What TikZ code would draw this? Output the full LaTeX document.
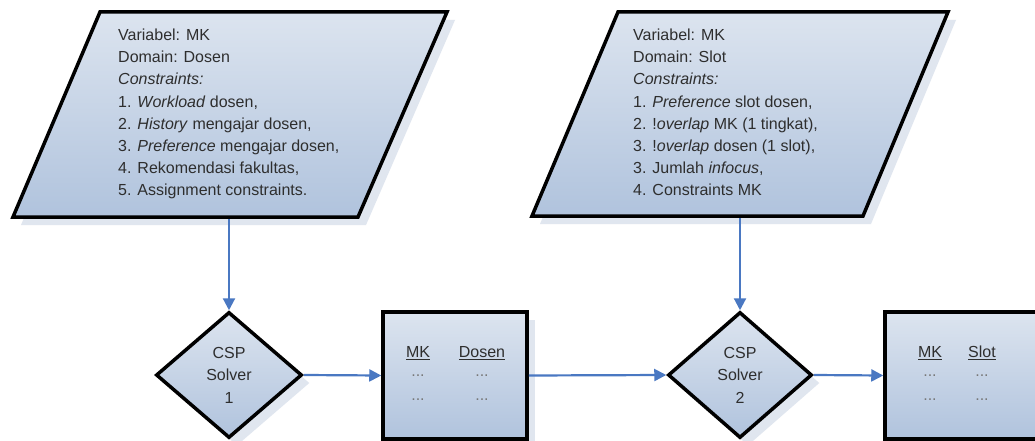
\documentclass[tikz,border=0pt]{standalone}
\usepackage{fontspec}
\setmainfont{Liberation Sans}
\usetikzlibrary{shapes.geometric,arrows.meta,shadows}
\definecolor{fillA}{HTML}{DCE4EF}
\definecolor{fillB}{HTML}{B0C3DD}
\definecolor{shadowc}{HTML}{E0E6EF}
\definecolor{flow}{HTML}{4A78C2}
\definecolor{txt}{HTML}{2E2E2E}
\definecolor{dotc}{HTML}{777777}
\tikzset{
  shapebox/.style={draw=black, line width=3.5pt, top color=fillA, bottom color=fillB,
    drop shadow={shadow xshift=8pt, shadow yshift=-8pt, fill=shadowc, opacity=1}},
  solver/.style={shapebox, shape=diamond, minimum width=146pt, minimum height=126pt,
    inner sep=0pt, align=center, text=txt, font=\fontsize{16}{22.5}\selectfont},
  resultbox/.style={shapebox, rectangle, minimum height=127pt, inner sep=0pt},
  inputtext/.style={anchor=north west, inner sep=0pt, align=left, text=txt,
    font=\fontsize{16}{22.1}\selectfont},
  celltext/.style={inner sep=0pt, text=txt, font=\fontsize{16}{20}\selectfont},
  dottext/.style={inner sep=0pt, text=dotc, font=\fontsize{16}{20}\selectfont},
  flowarrow/.style={draw=flow, line width=2.2pt, -{Triangle[length=12pt,width=12pt]}}
}
\begin{document}
\begin{tikzpicture}[x=1pt,y=-1pt]
\useasboundingbox (0,0) rectangle (1035,441);
\clip (0,0) rectangle (1035,441);
\fill[white] (0,0) rectangle (1035,441);

% input parallelogram 1
\fill[shadowc] (108,20) -- (455,20) -- (366,225) -- (21,225) -- cycle;
\shade[top color=fillA, bottom color=fillB] (100,12) -- (447,12) -- (358,217) -- (13,217) -- cycle;
\draw[line width=3.5pt, line join=miter] (100,12) -- (447,12) -- (358,217) -- (13,217) -- cycle;
\node[inputtext] (t1) at (118,29) {Variabel: MK\\
Domain: Dosen\\
\textit{Constraints:}\\
1. \textit{Workload} dosen,\\
2. \textit{History} mengajar dosen,\\
3. \textit{Preference} mengajar dosen,\\
4. Rekomendasi fakultas,\\
5. Assignment constraints.};
\coordinate (p1) at (229,219);

% input parallelogram 2
\fill[shadowc] (626,20) -- (956,20) -- (871,224) -- (540,224) -- cycle;
\shade[top color=fillA, bottom color=fillB] (618,12) -- (948,12) -- (863,216) -- (532,216) -- cycle;
\draw[line width=3.5pt, line join=miter] (618,12) -- (948,12) -- (863,216) -- (532,216) -- cycle;
\node[inputtext] (t2) at (633,29) {Variabel: MK\\
Domain: Slot\\
\textit{Constraints:}\\
1. \textit{Preference} slot dosen,\\
2. !\textit{overlap} MK (1 tingkat),\\
3. !\textit{overlap} dosen (1 slot),\\
3. Jumlah \textit{infocus},\\
4. Constraints MK};
\coordinate (p2) at (740,218);

% solvers
\node[solver] (d1) at (229,375) {CSP\\Solver\\1};
\node[solver, minimum width=144pt] (d2) at (740,375) {CSP\\Solver\\2};

% result boxes
\node[resultbox, minimum width=144pt] (b1) at (455,375.5) {};
\node[celltext] (b1k) at (418,353) {\underline{MK}};
\node[celltext] (b1v) at (482,353) {\underline{Dosen}};
\node[dottext] (b1a) at (418,376) {...};
\node[dottext] (b1b) at (482,376) {...};
\node[dottext] (b1c) at (418,400) {...};
\node[dottext] (b1d) at (482,400) {...};

\node[resultbox, minimum width=180pt] (b2) at (975,375.5) {};
\node[celltext] (b2k) at (930,353) {\underline{MK}};
\node[celltext] (b2v) at (982,353) {\underline{Slot}};
\node[dottext] (b2a) at (930,376) {...};
\node[dottext] (b2b) at (982,376) {...};
\node[dottext] (b2c) at (930,400) {...};
\node[dottext] (b2d) at (982,400) {...};

% connectors
\draw[flowarrow] (p1) -- (d1.north);
\draw[flowarrow] (p2) -- (d2.north);
\draw[flowarrow] (d1.east) -- (b1.west);
\draw[flowarrow] (b1.east) -- (d2.west);
\draw[flowarrow] (d2.east) -- (b2.west);
\end{tikzpicture}
\end{document}
